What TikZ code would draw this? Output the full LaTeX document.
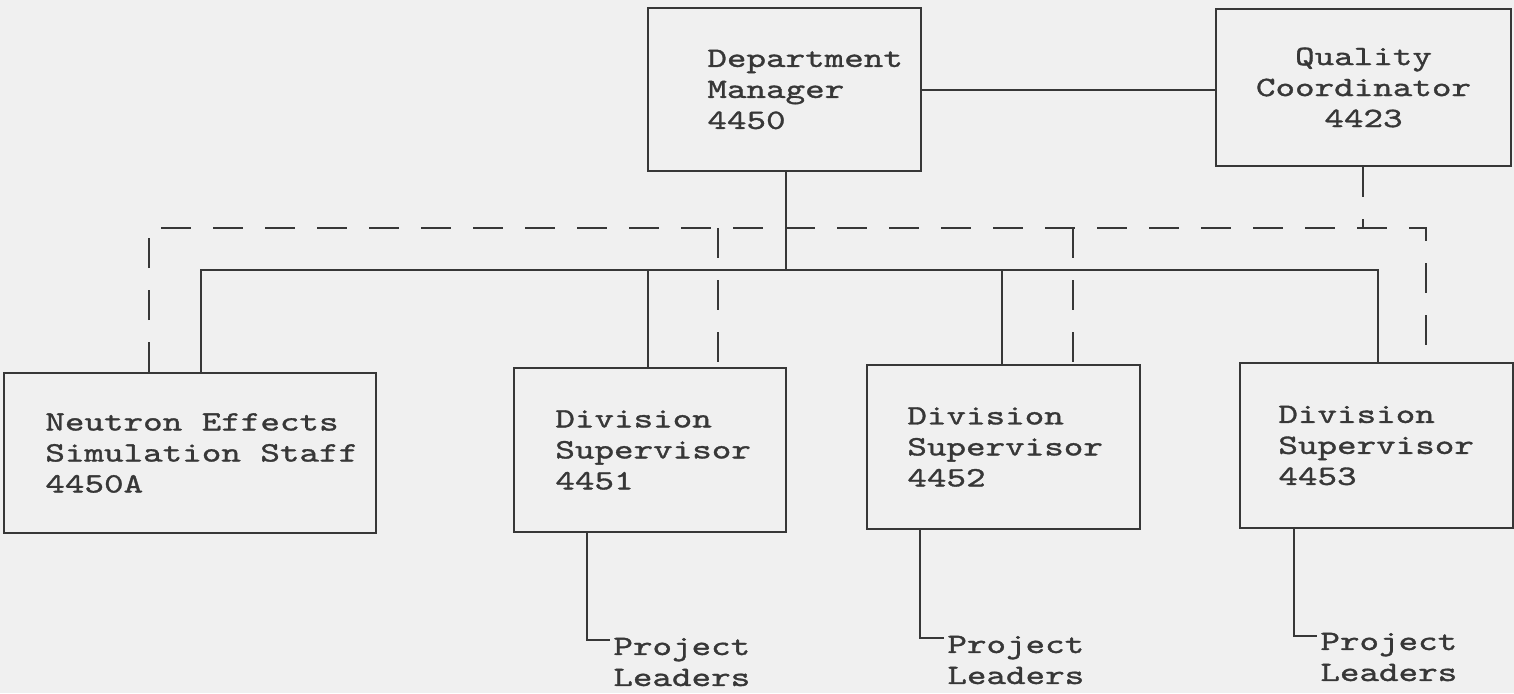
\documentclass[tikz,border=0pt]{standalone}
\usepackage{fontspec}
\usepackage{tikz}
\usetikzlibrary{positioning}
\newfontfamily\typefont{lmmono10-regular}[Extension=.otf, FakeStretch=1.33, FakeBold=1.2]
\definecolor{paper}{RGB}{240,240,240}
\definecolor{ink}{RGB}{55,55,55}

\begin{document}
\begin{tikzpicture}[x=0.5pt, y=-0.5pt, every node/.style={font=\typefont\fontsize{14}{15.5}\selectfont, text=ink}]
  \tikzstyle{box} = [rectangle, draw=ink, line width=1pt, anchor=north west, inner sep=0pt]
  \tikzstyle{boxtext} = [align=left, inner sep=0pt, anchor=west]
  \tikzstyle{line} = [draw=ink, line width=1pt]
  \tikzstyle{dashline} = [draw=ink, line width=1pt, dash pattern=on 15pt off 11pt]

  % Page
  \fill[paper] (0,0) rectangle (1514,693);
  \useasboundingbox (0,0) rectangle (1514,693);

  % Top Layer
  \node[box, minimum width=136.5pt, minimum height=81.5pt] (dept) at (647,7) {};
  \node[boxtext] (depttxt) at ([xshift=30pt]dept.west) {Department\\Manager\\4450};
  \node[box, minimum width=147.5pt, minimum height=78.5pt] (qual) at (1215,8) {};
  \node[align=center, inner sep=0pt] (qualtxt) at (qual) {Quality\\Coordinator\\4423};

  % Staff and Divisions
  \node[box, minimum width=186pt, minimum height=80pt] (neutron) at (3,372) {};
  \node[boxtext] (neutrontxt) at ([xshift=21pt]neutron.west) {Neutron Effects\\Simulation Staff\\4450A};
  \node[box, minimum width=136pt, minimum height=82pt] (div1) at (513,367) {};
  \node[boxtext] (div1txt) at ([xshift=21pt]div1.west) {Division\\Supervisor\\4451};
  \node[box, minimum width=136.5pt, minimum height=82pt] (div2) at (866,364) {};
  \node[boxtext] (div2txt) at ([xshift=20.5pt]div2.west) {Division\\Supervisor\\4452};
  \node[box, minimum width=136.5pt, minimum height=82.5pt] (div3) at (1239,362) {};
  \node[boxtext] (div3txt) at ([xshift=19.5pt]div3.west) {Division\\Supervisor\\4453};

  % Project Leaders
  \node[boxtext] (lead1) at (613,662) {Project\\Leaders};
  \node[boxtext] (lead2) at (947,660) {Project\\Leaders};
  \node[boxtext] (lead3) at (1320,657) {Project\\Leaders};

  % Solid Connections
  \coordinate (top) at (786,270);
  \coordinate (busL) at (201,270);
  \coordinate (busR) at (1378,270);
  \coordinate (s1) at (648,270);
  \coordinate (s2) at (1002,270);
  \draw[line] (dept.east) -- (dept.east -| qual.west);
  \draw[line] (dept.south -| top) -- (top);
  \draw[line] (neutron.north -| busL) -- (busL) -- (busR) -- (div3.north -| busR);
  \draw[line] (s1) -- (s1 |- div1.north);
  \draw[line] (s2) -- (s2 |- div2.north);

  % Dashed Connections
  \coordinate (dashL) at (149,228);
  \coordinate (dashR) at (1426,228);
  \coordinate (q1) at (1363,228);
  \coordinate (d1) at (718,228);
  \coordinate (d2) at (1073,228);
  \draw[dashline] (neutron.north -| dashL) -- (dashL) -- (dashR) -- (div3.north -| dashR);
  \draw[dashline] (qual.south -| q1) -- (q1);
  \draw[dashline] (d1) -- (d1 |- div1.north);
  \draw[dashline] (d2) -- (d2 |- div2.north);

  % Leader Lines
  \coordinate (l1) at (587,640);
  \coordinate (l2) at (920,638);
  \coordinate (l3) at (1294,636);
  \draw[line] (div1.south -| l1) -- (l1) -- ([xshift=-1.5pt]l1 -| lead1.west);
  \draw[line] (div2.south -| l2) -- (l2) -- ([xshift=-1.5pt]l2 -| lead2.west);
  \draw[line] (div3.south -| l3) -- (l3) -- ([xshift=-1.5pt]l3 -| lead3.west);
\end{tikzpicture}
\end{document}
